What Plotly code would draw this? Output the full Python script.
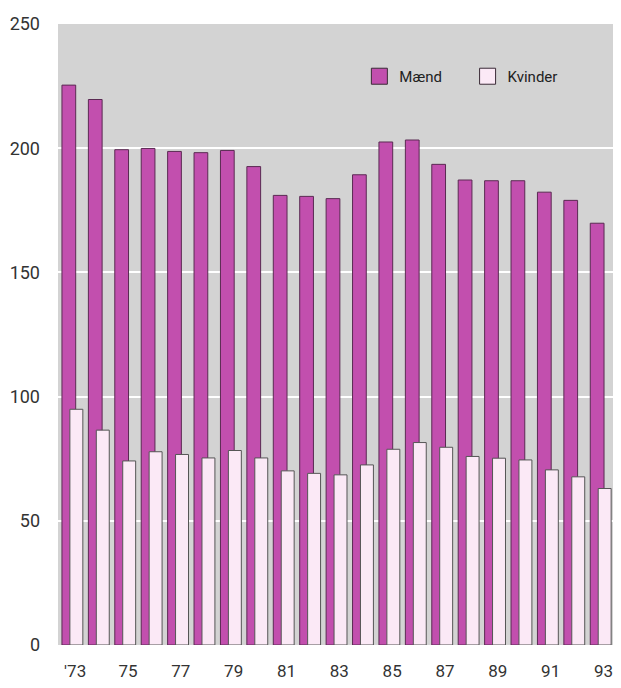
import plotly.graph_objects as go

years = list(range(1973, 1994))
maend = [225.4, 219.6, 199.4, 199.9, 198.7, 198.2, 199.1, 192.6, 181.0, 180.6, 179.7,
         189.3, 202.5, 203.3, 193.5, 187.2, 186.9, 186.9, 182.3, 179.0, 169.8]
kvinder = [94.9, 86.5, 74.1, 77.8, 76.7, 75.3, 78.3, 75.3, 70.1, 69.1, 68.5,
           72.5, 78.8, 81.5, 79.6, 75.9, 75.2, 74.5, 70.5, 67.7, 63.0]
tick_years = list(range(1973, 1994, 2))
tick_labels = ["'73"] + [str(y)[2:] for y in tick_years[1:]]

magenta = "#c24fae"
pink = "#fbe9f6"
font = "Roboto, Liberation Sans, sans-serif"

fig = go.Figure()
fig.add_trace(go.Bar(x=years, y=maend, name="Mænd", offset=-0.5, width=0.52,
                     marker=dict(color=magenta, line=dict(color="#5a2a52", width=1)),
                     showlegend=False))
fig.add_trace(go.Bar(x=years, y=kvinder, name="Kvinder", offset=-0.2, width=0.49,
                     marker=dict(color=pink, line=dict(color="#555555", width=1)),
                     showlegend=False))
# legend keys
fig.add_trace(go.Scatter(x=[None], y=[None], mode="markers", name="Mænd", legend="legend",
                         marker=dict(symbol="square", size=16, color=magenta,
                                     line=dict(color="#3a2a36", width=1))))
fig.add_trace(go.Scatter(x=[None], y=[None], mode="markers", name="Kvinder", legend="legend2",
                         marker=dict(symbol="square", size=16, color=pink,
                                     line=dict(color="#3a2a36", width=1))))

leg = dict(xanchor="left", yanchor="middle", y=0.9155, bgcolor="rgba(0,0,0,0)",
           font=dict(size=15, color="#222222"))

fig.update_layout(
    width=605, height=672,
    margin=dict(l=50, r=0, t=15.5, b=35),
    barmode="overlay",
    paper_bgcolor="white",
    plot_bgcolor="#d3d3d3",
    font=dict(family=font, color="#333333"),
    legend=dict(leg, x=0.543),
    legend2=dict(leg, x=0.738),
    xaxis=dict(range=[1972.35, 1993.36], tickvals=tick_years, ticktext=tick_labels,
               showgrid=False, zeroline=False, showline=False, ticks="",
               tickfont=dict(size=17, color="#333333"), ticklabelstandoff=14,
               automargin=False, ticklabeloverflow="allow"),
    yaxis=dict(range=[0, 250], tickvals=[0, 50, 100, 150, 200, 250],
               showgrid=True, gridcolor="white", gridwidth=2, zeroline=False,
               showline=False, ticks="", tickfont=dict(size=18, color="#333333"),
               ticklabelstandoff=17, automargin=False),
)

fig.write_html("out.html")
